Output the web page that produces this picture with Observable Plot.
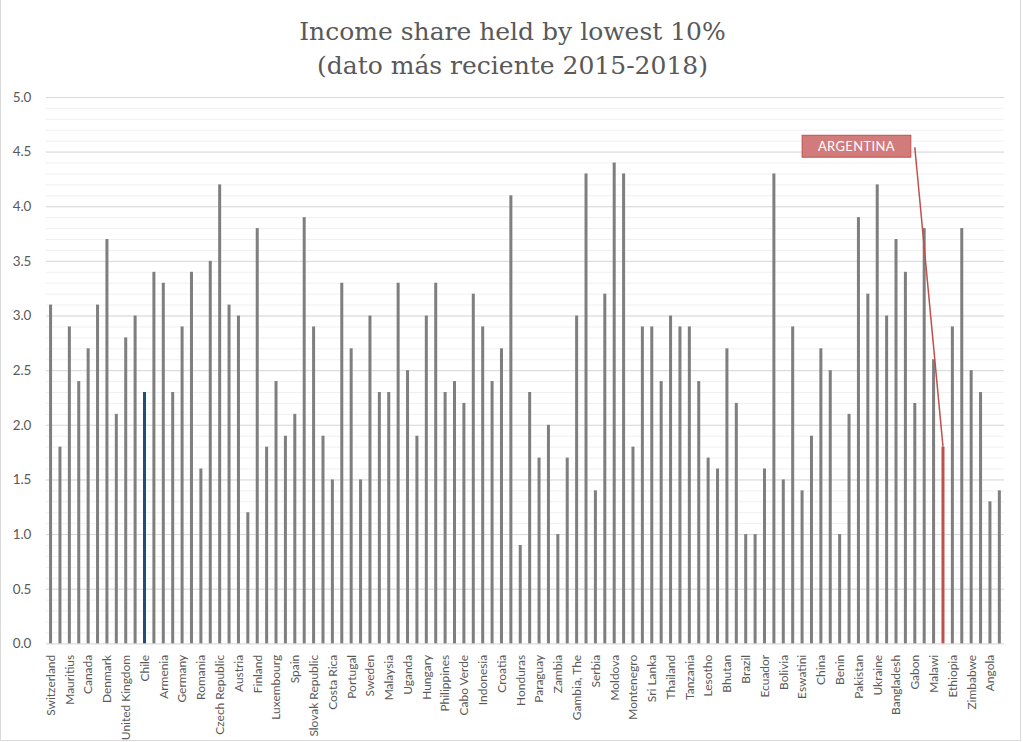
<!DOCTYPE html>
<html>
<head>
<meta charset="utf-8">
<script src="https://cdn.jsdelivr.net/npm/d3@7"></script>
<script src="https://cdn.jsdelivr.net/npm/@observablehq/plot@0.6"></script>
<style>
  html, body { margin: 0; padding: 0; background: #fff; }
  #frame { position: relative; width: 1021px; height: 741px; border: 1px solid #d9d9d9; border-top: none; box-sizing: border-box; background: #fff; overflow: hidden; }
  #title { position: absolute; left: 0; top: 15px; width: 1023px; text-align: center; font-family: "DejaVu Serif", serif; font-size: 25px; line-height: 34px; color: #595959; }
  #chart { position: absolute; left: -1px; top: 85px; }
</style>
</head>
<body>
<div id="frame">
  <div id="title">Income share held by lowest 10%<br>(dato más reciente 2015-2018)</div>
  <div id="chart"></div>
</div>
<script>
// Countries in chart order
const countries = [
  "Switzerland","Norway","Mauritius","Netherlands","Canada","Belgium","Denmark","France","United Kingdom","Italy",
  "Chile","Greece","Armenia","Ireland","Germany","Iceland","Romania","Slovenia","Czech Republic","Estonia",
  "Austria","Latvia","Finland","Lithuania","Luxembourg","Poland","Spain","Bulgaria","Slovak Republic","Cyprus",
  "Costa Rica","Malta","Portugal","United States","Sweden","Israel","Malaysia","Turkey","Uganda","Russia",
  "Hungary","Georgia","Philippines","Albania","Cabo Verde","North Macedonia","Indonesia","Kosovo","Croatia","Belarus",
  "Honduras","Kazakhstan","Paraguay","Kyrgyz Republic","Zambia","Mongolia","Gambia, The","Vietnam","Serbia","Myanmar",
  "Moldova","Nepal","Montenegro","India","Sri Lanka","Iran","Thailand","Egypt","Tanzania","Tunisia",
  "Lesotho","Algeria","Bhutan","Mexico","Brazil","Colombia","Ecuador","Peru","Bolivia","Uruguay",
  "Eswatini","El Salvador","China","Panama","Benin","Dominican Republic","Pakistan","Guatemala","Ukraine","Ghana",
  "Bangladesh","Rwanda","Gabon","Kenya","Malawi","Argentina","Ethiopia","Nigeria","Zimbabwe","Sudan",
  "Angola","Mozambique"
];
// Income share held by lowest 10% (%)
const values = [
  3.1,1.8,2.9,2.4,2.7,3.1,3.7,2.1,2.8,3.0,
  2.3,3.4,3.3,2.3,2.9,3.4,1.6,3.5,4.2,3.1,
  3.0,1.2,3.8,1.8,2.4,1.9,2.1,3.9,2.9,1.9,
  1.5,3.3,2.7,1.5,3.0,2.3,2.3,3.3,2.5,1.9,
  3.0,3.3,2.3,2.4,2.2,3.2,2.9,2.4,2.7,4.1,
  0.9,2.3,1.7,2.0,1.0,1.7,3.0,4.3,1.4,3.2,
  4.4,4.3,1.8,2.9,2.9,2.4,3.0,2.9,2.9,2.4,
  1.7,1.6,2.7,2.2,1.0,1.0,1.6,4.3,1.5,2.9,
  1.4,1.9,2.7,2.5,1.0,2.1,3.9,3.2,4.2,3.0,
  3.7,3.4,2.2,3.8,2.6,1.8,2.9,3.8,2.5,2.3,
  1.3,1.4
];
// Category labels printed on the x axis
const tickLabels = [
  "Switzerland","Mauritius","Canada","Denmark","United Kingdom","Chile","Armenia","Germany","Romania","Czech Republic",
  "Austria","Finland","Luxembourg","Spain","Slovak Republic","Costa Rica","Portugal","Sweden","Malaysia","Uganda",
  "Hungary","Philippines","Cabo Verde","Indonesia","Croatia","Honduras","Paraguay","Zambia","Gambia, The","Serbia",
  "Moldova","Montenegro","Sri Lanka","Thailand","Tanzania","Lesotho","Bhutan","Brazil","Ecuador","Bolivia",
  "Eswatini","China","Benin","Pakistan","Ukraine","Bangladesh","Gabon","Malawi","Ethiopia","Zimbabwe","Angola"
];
const yTicks = [0,0.5,1,1.5,2,2.5,3,3.5,4,4.5,5];
const minorTicks = d3.range(0, 51).map(i => i / 10);

const highlightColors = {"Chile": "#1f4e79", "Argentina": "#c0504d"};
const annotationCountry = "Argentina";
const annotationText = "ARGENTINA";
const annotationAnchorCountry = "Gabon";
const annotationAnchorY = 4.54;

const data = countries.map((c, i) => ({country: c, value: values[i]}));
const annotated = data.find(d => d.country === annotationCountry);

function annotationMark(index, scales) {
  const {x, y} = scales;
  const bw = x.bandwidth ? x.bandwidth() : 0;
  const tx = x(annotated.country) + bw / 2, ty = y(annotated.value);
  const ax = x(annotationAnchorCountry) + bw / 2, ay = y(annotationAnchorY);
  const g = d3.create("svg:g");
  g.append("line").attr("x1", ax).attr("y1", ay).attr("x2", tx).attr("y2", ty)
    .attr("stroke", "#c0504d").attr("stroke-width", 1.5);
  g.append("rect").attr("x", ax - 113).attr("y", ay - 12).attr("width", 109).attr("height", 22)
    .attr("fill", "#d27b7b").attr("stroke", "#c0504d").attr("stroke-width", 1);
  g.append("text").attr("x", ax - 58.5).attr("y", ay - 1).attr("text-anchor", "middle")
    .attr("dominant-baseline", "central").attr("fill", "#fff")
    .attr("font-family", "Lato, sans-serif").attr("font-size", 13).attr("letter-spacing", "0.4px")
    .text(annotationText);
  return g.node();
}

const chart = Plot.plot({
  width: 1023,
  height: 657,
  marginTop: 12,
  marginBottom: 97,
  marginLeft: 46,
  marginRight: 16,
  style: {fontFamily: "Lato, sans-serif", color: "#595959", background: "transparent"},
  x: {type: "band", domain: countries, padding: 0},
  y: {domain: [0, 5]},
  marks: [
    Plot.ruleY(minorTicks, {stroke: "#f0f0f0", strokeWidth: 1}),
    Plot.ruleY(yTicks, {stroke: "#d9d9d9", strokeWidth: 1}),
    Plot.barY(data, {
      x: "country", y: "value",
      fill: d => highlightColors[d.country] || "#7f7f7f",
      insetLeft: 3.2, insetRight: 3.2
    }),
    Plot.axisY({ticks: yTicks, tickFormat: d3.format(".1f"), tickSize: 0, tickPadding: 15, label: null, fontSize: 13.5}),
    Plot.axisX({ticks: tickLabels, tickSize: 0, tickPadding: 11, tickRotate: -90, label: null, fontSize: 12}),
    annotationMark
  ]
});
document.getElementById("chart").appendChild(chart);
</script>
</body>
</html>
